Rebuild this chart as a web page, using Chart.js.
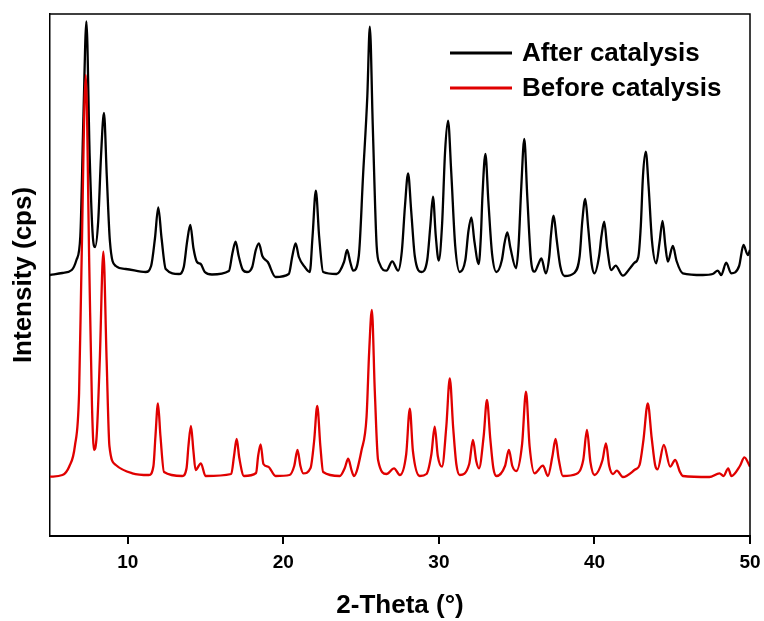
<!DOCTYPE html>
<html>
<head>
<meta charset="utf-8">
<title>XRD patterns</title>
<script src="https://cdn.jsdelivr.net/npm/chart.js@4.4.1/dist/chart.umd.min.js"></script>
<style>
  html, body { margin: 0; padding: 0; background: #fff; }
  canvas { display: block; }
</style>
</head>
<body>
<canvas id="xrd" width="764" height="621"></canvas>
<script>
// [2-theta (deg), intensity (cps)] for the used catalyst
var afterPattern = [
  [5.0, 2610], [5.8, 2630], [6.4, 2660], [6.7, 2760], [6.95, 3000], [7.15, 4200], [7.34, 5147], [7.55, 3800],
  [7.75, 3000], [7.90, 2890], [8.1, 3150], [8.28, 3800], [8.47, 4230], [8.65, 3600], [8.85, 2950], [9.23, 2700],
  [9.87, 2670], [11.15, 2640], [11.5, 2700], [11.75, 2980], [11.96, 3287], [12.17, 2980], [12.44, 2670],
  [13.29, 2620], [13.6, 2690], [13.82, 2950], [14.02, 3110], [14.22, 2880], [14.45, 2740], [14.69, 2720],
  [14.95, 2640], [15.41, 2615], [16.5, 2650], [16.73, 2830], [16.93, 2943], [17.13, 2800], [17.4, 2660],
  [17.66, 2640], [18.0, 2690], [18.23, 2860], [18.43, 2927], [18.65, 2800], [19.0, 2740], [19.5, 2590],
  [20.35, 2620], [20.58, 2800], [20.79, 2927], [21.0, 2790], [21.38, 2690], [21.7, 2640], [21.88, 3000],
  [22.09, 3453], [22.3, 3000], [22.56, 2640], [23.42, 2620], [23.9, 2740], [24.1, 2860], [24.3, 2740],
  [24.49, 2653], [24.85, 2800], [25.13, 3620], [25.4, 4400], [25.56, 5093], [25.75, 4100], [26.0, 2900],
  [26.2, 2720], [26.63, 2653], [27.0, 2747], [27.38, 2653], [27.62, 2850], [27.82, 3300], [28.02, 3627],
  [28.22, 3250], [28.45, 2800], [28.88, 2640], [29.25, 2760], [29.45, 3100], [29.62, 3393], [29.8, 3000],
  [29.99, 2753], [30.2, 3100], [30.4, 3850], [30.59, 4153], [30.79, 3650], [31.05, 2900], [31.34, 2640],
  [31.7, 2760], [31.9, 3050], [32.09, 3187], [32.28, 2950], [32.56, 2720], [32.7, 3000], [32.8, 3400],
  [32.99, 3820], [33.18, 3350], [33.42, 2820], [33.7, 2640], [34.05, 2760], [34.22, 2930], [34.40, 3037],
  [34.6, 2880], [34.96, 2677], [35.12, 2900], [35.3, 3500], [35.49, 3970], [35.68, 3400], [35.92, 2760],
  [36.15, 2643], [36.4, 2720], [36.59, 2777], [36.87, 2627], [37.1, 2800], [37.2, 3000], [37.38, 3203],
  [37.56, 2980], [37.8, 2700], [38.08, 2600], [38.72, 2633], [39.05, 2800], [39.22, 3150], [39.41, 3370],
  [39.6, 3080], [39.82, 2720], [40.0, 2627], [40.3, 2800], [40.45, 3000], [40.63, 3143], [40.82, 2880],
  [41.08, 2660], [41.36, 2703], [41.83, 2603], [42.3, 2680], [42.58, 2733], [42.82, 2790], [42.98, 3100],
  [43.12, 3600], [43.30, 3843], [43.48, 3500], [43.7, 2950], [43.97, 2727], [44.18, 2930], [44.38, 3150],
  [44.56, 2900], [44.72, 2743], [45.04, 2900], [45.28, 2750], [45.68, 2627], [46.97, 2610], [47.6, 2620],
  [47.93, 2653], [48.15, 2610], [48.47, 2733], [48.79, 2627], [49.3, 2700], [49.58, 2910], [49.86, 2810],
  [50.0, 2860]
];

// [2-theta (deg), intensity (cps)] for the fresh catalyst
var beforePattern = [
  [5.0, 593], [5.8, 610], [6.23, 693], [6.6, 900], [6.87, 1430], [7.02, 2660], [7.30, 4610], [7.53, 2660],
  [7.7, 1300], [7.83, 860], [8.0, 1000], [8.2, 1760], [8.43, 2843], [8.64, 1760], [8.82, 900], [9.23, 710],
  [10.29, 627], [11.36, 610], [11.65, 700], [11.78, 1000], [11.94, 1327], [12.1, 1000], [12.33, 640],
  [13.5, 600], [13.78, 680], [13.9, 900], [14.06, 1100], [14.22, 850], [14.36, 660], [14.70, 727], [15.0, 600],
  [16.65, 620], [16.83, 800], [17.0, 970], [17.17, 780], [17.47, 600], [18.25, 630], [18.38, 800], [18.54, 917],
  [18.72, 720], [19.03, 693], [19.5, 600], [20.4, 610], [20.7, 700], [20.91, 860], [21.1, 700], [21.28, 627],
  [21.75, 680], [21.98, 950], [22.18, 1300], [22.38, 900], [22.56, 640], [23.63, 600], [23.95, 680],
  [24.17, 773], [24.38, 660], [24.53, 600], [25.03, 860], [25.35, 1193], [25.52, 1850], [25.69, 2260],
  [25.88, 1450], [26.09, 760], [26.63, 620], [27.12, 677], [27.49, 610], [27.9, 820], [28.13, 1273],
  [28.33, 850], [28.77, 600], [29.2, 620], [29.52, 820], [29.73, 1093], [29.93, 800], [30.2, 693],
  [30.48, 1100], [30.70, 1577], [30.92, 1080], [31.12, 720], [31.34, 610], [31.95, 720], [32.19, 960],
  [32.4, 750], [32.58, 677], [32.88, 1000], [33.09, 1360], [33.3, 980], [33.5, 680], [33.7, 600], [34.25, 700],
  [34.5, 860], [34.72, 700], [34.98, 650], [35.35, 920], [35.6, 1443], [35.83, 900], [36.15, 627], [36.69, 703],
  [37.01, 600], [37.3, 800], [37.5, 970], [37.7, 770], [37.97, 600], [38.83, 620], [39.28, 760], [39.52, 1060],
  [39.74, 740], [40.0, 610], [40.52, 760], [40.74, 927], [40.95, 700], [41.19, 620], [41.44, 653], [41.83, 590],
  [42.64, 667], [42.9, 710], [43.15, 960], [43.43, 1327], [43.68, 980], [43.9, 710], [44.06, 667], [44.46, 910],
  [44.87, 693], [45.19, 760], [45.5, 640], [45.68, 600], [47.39, 590], [48.04, 627], [48.3, 600], [48.6, 677],
  [48.8, 600], [49.35, 700], [49.64, 787], [50.0, 693]
];

var xTicks = [10, 20, 30, 40, 50];
var seriesLabels = ['After catalysis', 'Before catalysis'];

function toPoints(pairs) {
  return pairs.map(function (p) { return { x: p[0], y: p[1] }; });
}

var FONT = "'Liberation Sans', Arial, sans-serif";

// closes the frame on top and right, and draws the line legend inside the plot
var framePlugin = {
  id: 'frame',
  afterDraw: function (chart, args, opts) {
    var ctx = chart.ctx;
    var a = chart.chartArea;
    ctx.save();
    ctx.strokeStyle = '#000';
    ctx.lineWidth = 1.5;
    ctx.beginPath();
    ctx.moveTo(a.left, a.top);
    ctx.lineTo(a.right, a.top);
    ctx.lineTo(a.right, a.bottom);
    ctx.stroke();

    ctx.font = 'bold 26px ' + FONT;
    ctx.textBaseline = 'middle';
    ctx.fillStyle = '#000';
    chart.data.datasets.forEach(function (ds, row) {
      var y = opts.y + row * opts.rowHeight;
      ctx.strokeStyle = ds.borderColor;
      ctx.lineWidth = 3;
      ctx.beginPath();
      ctx.moveTo(opts.x, y);
      ctx.lineTo(opts.x + opts.lineLength, y);
      ctx.stroke();
      ctx.fillText(ds.label, opts.x + opts.lineLength + opts.gap, y + 1);
    });
    ctx.restore();
  }
};

var ctx = document.getElementById('xrd').getContext('2d');
var chart = new Chart(ctx, {
  type: 'line',
  data: {
    datasets: [{
      label: seriesLabels[0],
      data: toPoints(afterPattern),
      borderColor: '#000000',
      borderWidth: 2.3,
      pointRadius: 0,
      cubicInterpolationMode: 'monotone',
      order: 1
    }, {
      label: seriesLabels[1],
      data: toPoints(beforePattern),
      borderColor: '#e00000',
      borderWidth: 2.3,
      pointRadius: 0,
      cubicInterpolationMode: 'monotone',
      order: 0
    }]
  },
  options: {
    responsive: false,
    animation: false,
    layout: { padding: { top: 14, right: 14, left: 0, bottom: 0 } },
    plugins: {
      legend: { display: false },
      tooltip: { enabled: false },
      frame: { x: 450, y: 53, lineLength: 62, rowHeight: 35, gap: 10 }
    },
    scales: {
      x: {
        type: 'linear',
        min: 5,
        max: 50,
        afterBuildTicks: function (scale) {
          scale.ticks = xTicks.map(function (v) { return { value: v }; });
        },
        afterFit: function (scale) {
          scale.height = 85;
          scale.paddingLeft = 0;
          scale.paddingRight = 0;
        },
        grid: { drawOnChartArea: false, drawTicks: true, tickLength: 8, color: '#000', lineWidth: 2 },
        border: { display: true, color: '#000', width: 2 },
        ticks: { color: '#000', padding: 7, maxRotation: 0, font: { family: FONT, size: 19, weight: 'bold' } },
        title: {
          display: true,
          text: '2-Theta (°)',
          color: '#000',
          padding: { top: 0, bottom: 0 },
          font: { family: FONT, size: 26, weight: 'bold' }
        }
      },
      y: {
        min: 0,
        max: 5220,
        afterFit: function (scale) { scale.width = 50; },
        grid: { display: false },
        border: { display: true, color: '#000', width: 1.5 },
        ticks: { display: false },
        title: {
          display: true,
          text: 'Intensity (cps)',
          color: '#000',
          padding: { top: 8, bottom: 0 },
          font: { family: FONT, size: 26, weight: 'bold' }
        }
      }
    }
  },
  plugins: [framePlugin]
});
</script>
</body>
</html>
